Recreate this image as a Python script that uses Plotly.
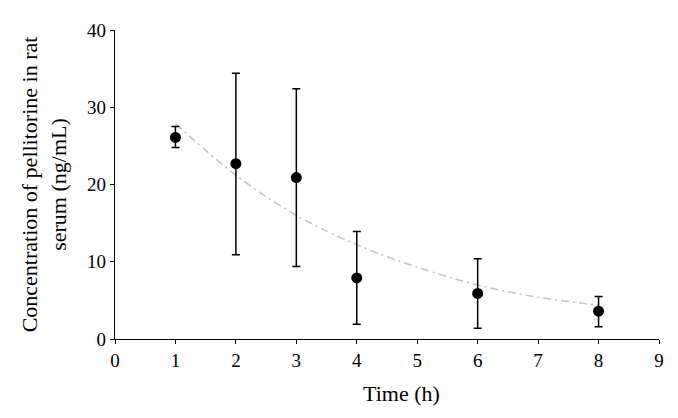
import plotly.graph_objects as go

time_h = [1, 2, 3, 4, 6, 8]
conc = [26.1, 22.7, 20.9, 7.9, 5.9, 3.6]
err_plus = [1.4, 11.7, 11.5, 6.0, 4.5, 1.9]
err_minus = [1.3, 11.8, 11.5, 6.0, 4.5, 2.0]

trend_x = [1, 2, 3, 4, 5, 6, 7, 8]
trend_y = [27.9, 21.2, 16.0, 12.2, 9.3, 7.0, 5.4, 4.4]

x_ticks = list(range(0, 10))
y_ticks = [0, 10, 20, 30, 40]

x_title = "Time (h)"
y_title = "Concentration of pellitorine in rat<br>serum (ng/mL)"

font_family = "Liberation Serif, Times New Roman, serif"

fig = go.Figure()
fig.add_trace(go.Scatter(
    x=trend_x, y=trend_y, mode="lines", line_shape="spline",
    line=dict(color="#c4c4c4", width=1.5, dash="8px,4px,2px,4px"),
    showlegend=False, hoverinfo="skip"))
fig.add_trace(go.Scatter(
    x=time_h, y=conc, mode="markers",
    marker=dict(color="black", size=11),
    error_y=dict(type="data", array=err_plus, arrayminus=err_minus,
                 color="black", thickness=1.5, width=4),
    showlegend=False))

fig.update_layout(
    width=670, height=410,
    margin=dict(l=107, r=19, t=15, b=79),
    paper_bgcolor="white", plot_bgcolor="white",
    font=dict(family=font_family, size=19, color="black"),
    xaxis=dict(range=[0, 9], tickvals=x_ticks, showgrid=False, zeroline=False,
               showline=True, linecolor="black", linewidth=1.3,
               ticks="outside", ticklen=4, tickcolor="black", tickwidth=1.3,
               tickfont=dict(size=19)),
    yaxis=dict(range=[0, 40], tickvals=y_ticks, showgrid=False, zeroline=False,
               showline=True, linecolor="black", linewidth=1.3,
               ticks="outside", ticklen=4, tickcolor="black", tickwidth=1.3,
               title=dict(text=y_title, standoff=14, font=dict(size=22)),
               tickfont=dict(size=19)),
    annotations=[dict(text=x_title, xref="paper", yref="paper",
                      x=0.526, y=-0.175, xanchor="center", yanchor="middle",
                      showarrow=False, font=dict(size=22))],
)

fig.write_html("out.html")
